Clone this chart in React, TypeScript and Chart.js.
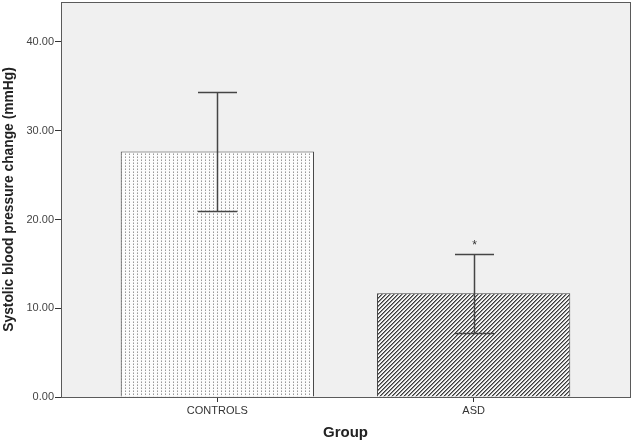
import React, { useEffect, useRef } from "react";
import { Chart, registerables } from "chart.js";

Chart.register(...registerables);

const categories = ["CONTROLS", "ASD"];
const means = [27.65, 11.7];
const upperErr = [34.4, 16.1];
const lowerErr = [20.9, 7.25];
const marks = ["", "*"];
const yTicks = [0, 10, 20, 30, 40];
const yMax = 44.5;
const xTitle = "Group";
const yTitle = "Systolic blood pressure change (mmHg)";

const FONT = "Arial, 'Liberation Sans', Helvetica, sans-serif";

function makeDots(): CanvasPattern | string {
  const c = document.createElement("canvas");
  c.width = 4;
  c.height = 3;
  const g = c.getContext("2d");
  if (!g) return "#fff";
  g.fillStyle = "#fcfcfc";
  g.fillRect(0, 0, 4, 3);
  g.fillStyle = "#999";
  g.fillRect(1, 1, 1, 1);
  g.fillStyle = "#c4c4c4";
  g.fillRect(1, 0, 1, 1);
  return g.createPattern(c, "repeat") as CanvasPattern;
}

function makeHatch(): CanvasPattern | string {
  const c = document.createElement("canvas");
  c.width = 4;
  c.height = 4;
  const g = c.getContext("2d");
  if (!g) return "#888";
  g.fillStyle = "#f4f4f4";
  g.fillRect(0, 0, 4, 4);
  for (let i = 0; i < 4; i++) {
    g.fillStyle = "#3a3a3a";
    g.fillRect(3 - i, i, 1, 1);
    g.fillStyle = "#8a8a8a";
    g.fillRect((4 - i) % 4, i, 1, 1);
  }
  return g.createPattern(c, "repeat") as CanvasPattern;
}

const framePlugin = {
  id: "frame",
  beforeDatasetsDraw(chart: any) {
    const { ctx, chartArea } = chart;
    ctx.save();
    ctx.fillStyle = "#f0f0f0";
    ctx.fillRect(chartArea.left, chartArea.top, chartArea.right - chartArea.left, chartArea.bottom - chartArea.top);
    ctx.restore();
  },
  afterDatasetsDraw(chart: any) {
    const { ctx, chartArea, scales } = chart;
    const xs = scales.x;
    const ys = scales.y;
    ctx.save();
    ctx.strokeStyle = "#454545";
    ctx.lineWidth = 1.5;
    categories.forEach((_, i) => {
      const px = Math.round(xs.getPixelForValue(i)) + 0.5;
      const yu = Math.round(ys.getPixelForValue(upperErr[i])) + 0.5;
      const yl = Math.round(ys.getPixelForValue(lowerErr[i])) + 0.5;
      const half = 19.5;
      ctx.beginPath();
      ctx.moveTo(px, yu);
      ctx.lineTo(px, yl);
      ctx.moveTo(px - half, yu);
      ctx.lineTo(px + half, yu);
      ctx.moveTo(px - half, yl);
      ctx.lineTo(px + half, yl);
      ctx.stroke();
      if (marks[i]) {
        ctx.fillStyle = "#333";
        ctx.font = `12px ${FONT}`;
        ctx.textAlign = "center";
        ctx.textBaseline = "bottom";
        ctx.fillText(marks[i], px, yu - 3);
      }
    });
    ctx.strokeStyle = "#5a5a5a";
    ctx.lineWidth = 1;
    ctx.strokeRect(
      Math.round(chartArea.left) + 0.5,
      Math.round(chartArea.top) + 0.5,
      Math.round(chartArea.right - chartArea.left),
      Math.round(chartArea.bottom - chartArea.top)
    );
    ctx.restore();
  },
};

export default function App() {
  const ref = useRef<HTMLCanvasElement | null>(null);

  useEffect(() => {
    if (!ref.current) return;
    const fills = [makeDots(), makeHatch()];
    const chart = new Chart(ref.current, {
      type: "bar",
      data: {
        datasets: [
          {
            data: categories.map((_, i) => ({ x: i, y: means[i] })),
            backgroundColor: fills as any,
            borderColor: "#444",
            borderWidth: 1,
            categoryPercentage: 1,
            barPercentage: 0.754,
          },
        ],
      },
      options: {
        animation: false,
        responsive: false,
        maintainAspectRatio: false,
        layout: { padding: { top: 2, right: 3, left: 0, bottom: 0 } },
        plugins: { legend: { display: false }, tooltip: { enabled: false } },
        scales: {
          x: {
            type: "linear",
            min: -0.61,
            max: 1.61,
            offset: false,
            afterBuildTicks: (s: any) => {
              s.ticks = categories.map((_, i) => ({ value: i }));
            },
            afterFit: (s: any) => {
              s.height = 45;
              s.paddingLeft = 0;
              s.paddingRight = 0;
            },
            ticks: {
              callback: (v: any) => categories[Math.round(Number(v))] ?? "",
              font: { family: FONT, size: 11 },
              color: "#333",
              padding: 2,
              maxRotation: 0,
              autoSkip: false,
            },
            grid: { offset: false, drawOnChartArea: false, drawTicks: true, tickLength: 5, color: "#333" },
            border: { display: true, color: "#333", width: 1 },
            title: {
              display: true,
              text: xTitle,
              font: { family: FONT, size: 15, weight: "bold" },
              color: "#222",
              padding: { top: 0, bottom: 0 },
            },
          },
          y: {
            type: "linear",
            min: 0,
            max: yMax,
            afterBuildTicks: (s: any) => {
              s.ticks = yTicks.map((v) => ({ value: v }));
            },
            afterFit: (s: any) => {
              s.width = 61;
              s.paddingTop = 0;
              s.paddingBottom = 0;
            },
            ticks: {
              callback: (v: any) => Number(v).toFixed(2),
              font: { family: FONT, size: 11 },
              color: "#444",
              padding: 1,
            },
            grid: { drawOnChartArea: false, drawTicks: true, tickLength: 6, color: "#333" },
            border: { display: true, color: "#333", width: 1 },
            title: {
              display: true,
              text: yTitle,
              font: { family: FONT, size: 13.8, weight: "bold" },
              color: "#222",
              padding: { top: 1, bottom: 0 },
            },
          },
        },
      },
      plugins: [framePlugin],
    });
    return () => chart.destroy();
  }, []);

  return (
    <div style={{ position: "fixed", left: 0, top: 0, width: 633, height: 442, background: "#fff" }}>
      <canvas ref={ref} width={633} height={442} style={{ display: "block" }} />
    </div>
  );
}
